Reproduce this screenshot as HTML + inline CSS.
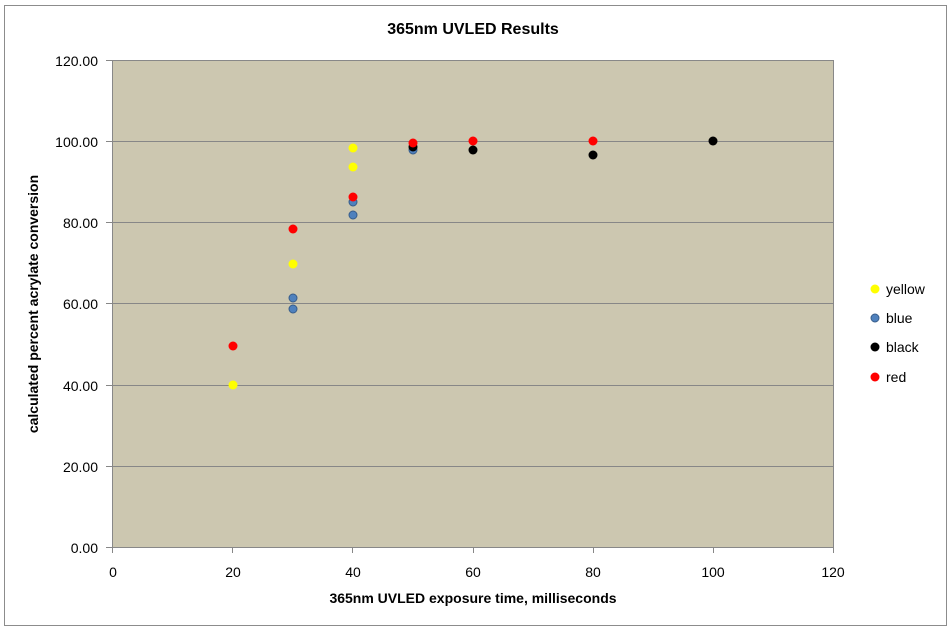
<!DOCTYPE html>
<html><head><style>body{margin:0;background:#fff}</style></head><body>
<svg width="952" height="631" xmlns="http://www.w3.org/2000/svg" font-family="Liberation Sans, sans-serif">
<rect x="4.5" y="5.5" width="942" height="620" fill="#fff" stroke="#8c8c8c"/>
<rect x="112.5" y="60.5" width="721" height="487" fill="#ccc7b0" stroke="#888"/>
<g stroke="#878787" stroke-width="1">
<line x1="112" y1="466.5" x2="834" y2="466.5"/>
<line x1="112" y1="385.5" x2="834" y2="385.5"/>
<line x1="112" y1="303.5" x2="834" y2="303.5"/>
<line x1="112" y1="222.5" x2="834" y2="222.5"/>
<line x1="112" y1="141.5" x2="834" y2="141.5"/>
<line x1="106" y1="60.5" x2="112" y2="60.5"/><line x1="106" y1="141.5" x2="112" y2="141.5"/>
<line x1="106" y1="222.5" x2="112" y2="222.5"/><line x1="106" y1="303.5" x2="112" y2="303.5"/>
<line x1="106" y1="385.5" x2="112" y2="385.5"/><line x1="106" y1="466.5" x2="112" y2="466.5"/>
<line x1="106" y1="547.5" x2="112" y2="547.5"/>
<line x1="112.5" y1="547" x2="112.5" y2="553"/><line x1="232.5" y1="547" x2="232.5" y2="553"/>
<line x1="352.5" y1="547" x2="352.5" y2="553"/><line x1="473.5" y1="547" x2="473.5" y2="553"/>
<line x1="593.5" y1="547" x2="593.5" y2="553"/><line x1="713.5" y1="547" x2="713.5" y2="553"/>
<line x1="833.5" y1="547" x2="833.5" y2="553"/>
</g>
<g font-size="14" fill="#000" text-anchor="end">
<text x="98" y="66">120.00</text><text x="98" y="147">100.00</text><text x="98" y="228">80.00</text>
<text x="98" y="309">60.00</text><text x="98" y="391">40.00</text><text x="98" y="472">20.00</text><text x="98" y="553">0.00</text>
</g>
<g font-size="14" fill="#000" text-anchor="middle">
<text x="113" y="577">0</text><text x="233" y="577">20</text><text x="353" y="577">40</text><text x="473" y="577">60</text>
<text x="593" y="577">80</text><text x="713" y="577">100</text><text x="833" y="577">120</text>
</g>
<text x="473" y="34" font-size="16" font-weight="bold" text-anchor="middle">365nm UVLED  Results</text>
<text x="473" y="603" font-size="14" font-weight="bold" text-anchor="middle">365nm UVLED exposure time, milliseconds</text>
<text transform="translate(38,304) rotate(-90)" font-size="14" font-weight="bold" text-anchor="middle">calculated percent acrylate conversion</text>
<g>
<circle cx="233" cy="385" r="4.5" fill="#ffff00"/>
<circle cx="293" cy="264" r="4.5" fill="#ffff00"/>
<circle cx="353" cy="148" r="4.5" fill="#ffff00"/>
<circle cx="353" cy="167" r="4.5" fill="#ffff00"/>
<circle cx="293" cy="298" r="4" fill="#4f81bd" stroke="#385d8a"/>
<circle cx="293" cy="309" r="4" fill="#4f81bd" stroke="#385d8a"/>
<circle cx="353" cy="202" r="4" fill="#4f81bd" stroke="#385d8a"/>
<circle cx="353" cy="215" r="4" fill="#4f81bd" stroke="#385d8a"/>
<circle cx="413" cy="150" r="4" fill="#4f81bd" stroke="#385d8a"/>
<circle cx="413" cy="147" r="4.5" fill="#000"/>
<circle cx="473" cy="150" r="4.5" fill="#000"/>
<circle cx="593" cy="155" r="4.5" fill="#000"/>
<circle cx="713" cy="141" r="4.5" fill="#000"/>
<circle cx="233" cy="346" r="4.5" fill="#ff0000"/>
<circle cx="293" cy="229" r="4.5" fill="#ff0000"/>
<circle cx="353" cy="197" r="4.5" fill="#ff0000"/>
<circle cx="413" cy="143" r="4.5" fill="#ff0000"/>
<circle cx="473" cy="141" r="4.5" fill="#ff0000"/>
<circle cx="593" cy="141" r="4.5" fill="#ff0000"/>
</g>
<g font-size="14">
<circle cx="875" cy="289" r="4.5" fill="#ffff00"/><text x="886" y="294">yellow</text>
<circle cx="875" cy="318" r="4" fill="#4f81bd" stroke="#385d8a"/><text x="886" y="323">blue</text>
<circle cx="875" cy="347" r="4.5" fill="#000"/><text x="886" y="352">black</text>
<circle cx="875" cy="377" r="4.5" fill="#ff0000"/><text x="886" y="382">red</text>
</g>
</svg>
</body></html>
